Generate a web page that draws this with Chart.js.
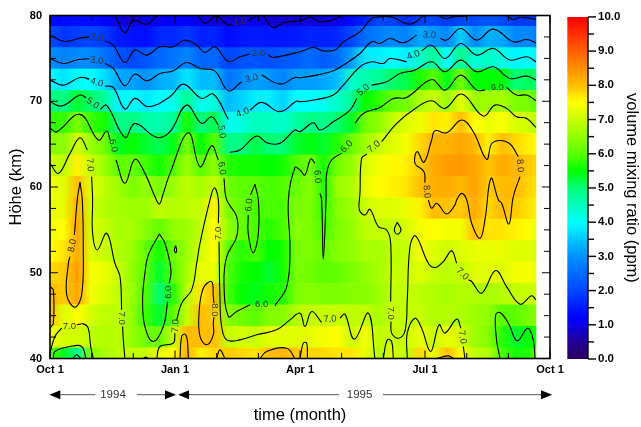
<!DOCTYPE html>
<html><head><meta charset="utf-8">
<style>html,body{margin:0;padding:0;background:#fff}canvas{position:absolute;left:0;top:0}</style>
<script src="https://cdn.jsdelivr.net/npm/chart.js@4"></script>
</head><body>
<canvas id="main" width="641" height="427"></canvas>
<canvas id="bar" width="641" height="427"></canvas>
<script>
const FONT="'Liberation Sans',Arial,sans-serif";
// heat-map columns (days since 1 Oct 1994)
const columnDays=[0,10,20,30,40,50,60,70,80,90,100,110,120,130,140,150,160,170,180,190,200,210,220,230,240,250,260,270,280,290,300,310,320,330,340,350,355];
const rowKm=[80,77.5,75,72.5,70,67.5,65,62.5,60,57.5,55,52.5,50,47.5,45,42.5,40];
const r80=[1.3,1.3,1.35,1.35,1.25,0.95,0.8,1.0,1.05,1.2,1.2,1.0,0.9,0.85,0.9,1.05,0.85,0.85,0.9,0.95,0.9,1.0,1.3,1.6,2.0,1.95,1.7,1.9,2.05,1.85,2.0,2.1,2.2,2.1,1.85,1.9,1.9];
const r77=[2.05,1.8,1.9,2.0,1.85,1.5,1.4,1.35,1.65,1.65,1.85,1.55,1.6,1.3,1.45,1.5,1.45,1.45,1.5,1.6,1.55,1.65,2.0,2.5,2.75,2.9,2.8,3.2,3.05,2.85,3.55,2.9,3.3,3.2,2.85,2.9,2.75];
const r75=[3.0,2.8,2.9,2.9,2.6,2.2,2.0,2.2,2.45,2.6,2.85,2.4,2.45,1.95,2.15,2.2,2.1,2.25,2.3,2.5,2.3,2.5,3.1,3.8,3.85,4.0,3.85,4.4,4.8,4.0,4.9,4.25,4.45,4.2,3.9,4.05,3.9];
const r72=[4.0,3.75,4.1,4.0,3.7,3.2,3.15,3.0,3.25,3.35,3.8,3.4,3.4,2.6,2.9,3.15,3.05,2.85,3.1,3.1,3.2,3.4,4.4,4.6,4.8,5.05,5.2,5.65,6.0,5.4,6.25,5.45,5.5,5.5,5.0,5.15,5.0];
const r70=[5.0,4.9,5.3,5.05,4.75,3.9,4.05,3.8,4.0,4.15,4.8,4.1,4.3,3.35,3.6,3.85,3.85,3.6,4.0,4.0,4.15,4.4,4.8,5.5,5.75,6.1,6.2,6.75,7.0,6.6,7.25,6.6,6.6,6.7,6.3,6.25,6.0];
const r67=[5.75,5.8,6.3,5.8,5.6,4.85,4.95,4.65,4.6,4.75,5.6,4.95,5.2,4.1,4.25,4.5,4.45,4.4,4.7,4.9,4.85,5.05,5.35,6.2,6.45,6.95,7.2,7.35,7.7,7.6,8.02,7.5,7.3,7.45,7.15,7.05,6.85];
const r65=[6.45,6.4,7.1,6.55,6.2,5.35,5.55,5.3,5.15,5.4,6.25,5.5,6.0,4.9,4.9,5.2,5.0,5.0,5.3,5.45,5.3,5.7,6.15,6.6,7.0,7.2,7.4,7.8,8.1,8.1,8.25,8.05,7.6,8.0,7.8,7.6,7.5];
const r62=[7.0,6.9,7.6,7.0,6.6,6.0,6.1,5.85,5.6,5.95,6.6,6.0,6.5,5.7,5.6,5.6,5.5,5.6,5.95,6.2,5.6,6.25,6.5,7.15,7.4,7.55,7.6,7.9,8.2,8.35,8.4,8.25,7.95,8.2,8.05,7.9,7.8];
const r60=[7.4,7.2,8.0,7.2,6.9,6.6,6.3,6.5,6.3,6.6,6.9,6.7,7.0,6.2,6.0,6.0,5.9,5.95,6.1,6.4,5.7,6.6,6.7,7.3,7.5,7.6,7.7,8.0,8.15,8.2,8.05,8.3,7.9,8.05,8.05,7.8,7.7];
const r57=[7.3,7.3,8.15,7.1,6.8,6.7,6.6,6.6,6.9,6.8,6.9,6.95,7.6,6.3,6.1,5.9,5.9,5.9,6.3,6.3,5.8,6.4,6.6,7.0,7.2,7.2,7.3,7.6,8.02,7.95,7.9,8.2,7.8,8.05,7.9,7.7,7.6];
const r55=[7.4,7.5,8.25,7.1,7.0,6.7,6.7,6.4,6.1,6.5,6.6,6.95,7.5,6.5,6.1,5.9,5.7,5.9,6.4,6.3,5.9,6.3,6.5,6.9,6.95,6.95,7.1,7.4,7.5,7.4,7.4,8.02,7.7,7.7,7.6,7.5,7.4];
const r52=[7.5,7.7,8.2,7.2,7.0,6.8,6.6,6.05,5.6,6.2,6.6,7.1,7.5,6.0,5.7,5.9,5.5,5.6,6.3,6.3,6.1,6.4,6.5,6.7,6.7,6.9,6.95,7.4,7.2,7.05,7.2,7.3,7.3,7.3,7.2,7.2,7.1];
const r50=[7.8,7.9,8.35,7.4,7.3,7.0,6.5,6.0,5.3,6.0,6.7,7.3,7.3,5.95,5.6,5.5,5.3,5.6,6.3,6.2,6.0,6.1,6.3,6.5,6.7,6.95,7.0,7.2,6.95,6.9,6.95,7.2,7.25,7.2,7.4,7.4,7.35];
const r47=[8.05,7.9,8.25,7.4,7.2,6.9,6.6,5.9,5.0,5.7,6.9,7.7,8.0,5.9,5.5,5.4,5.6,5.7,6.3,6.4,6.3,6.3,6.4,6.4,6.6,6.9,6.95,6.9,6.8,6.7,6.8,6.8,6.7,6.8,6.95,7.0,7.0];
const r45=[8.05,7.2,7.5,7.1,6.9,6.9,6.5,5.8,5.3,6.0,7.0,8.0,7.9,6.4,6.2,6.0,6.4,6.4,6.8,7.0,6.95,7.0,6.9,6.95,6.7,7.0,6.9,7.0,6.8,6.85,6.75,6.6,6.5,6.0,6.0,6.3,6.4];
const r42=[7.4,7.1,7.1,6.9,6.8,6.9,6.5,6.2,6.1,7.0,8.05,8.0,8.0,6.95,7.1,7.0,7.2,7.25,7.2,7.3,7.4,7.5,7.0,7.4,6.9,7.0,7.0,7.3,7.0,7.3,7.1,6.6,6.4,5.7,5.3,5.5,5.6];
const r40=[6.0,5.4,4.8,6.4,6.7,6.9,6.9,7.0,7.3,7.5,8.15,7.6,7.8,7.9,7.8,7.7,8.0,8.1,7.9,7.8,7.8,7.7,7.7,7.3,6.8,7.2,6.9,7.8,7.3,8.0,7.5,6.9,6.8,5.9,5.6,5.7,6.0];
const heatRows=[r80,r77,r75,r72,r70,r67,r65,r62,r60,r57,r55,r52,r50,r47,r45,r42,r40];
// colour scale: value, r, g, b
const colorMap=[[0,45,0,95],[0.5,35,0,150],[1,10,0,235],[1.2,0,0,255],[2,0,70,255],[3,0,145,255],[4,0,255,255],[5,0,255,120],[5.5,0,255,0],[6,90,255,0],[7,200,255,0],[7.5,255,255,0],[8,255,190,0],[9,255,95,0],[10,255,0,0]];
// contour pieces: flat day,km,day,km...
const c10=[[47.4,80,54.7,77.98,60.8,79.46,70.6,78.99,77.9,80],
[108.3,80,113.1,79.07,121.2,79.92,128.9,78.99,132.6,78.87],[144.8,79.38,150.9,80],
[155.7,80,163,78.6,170.3,79.15,182.5,79.38,189.8,79.77,197.1,79.26,206.8,79.53,212.9,80]];
const c20=[[0,77.71,10.9,76.97,20.7,77.32,28.7,77.51],
[40.1,77.05,46.2,76.54,54.7,74.52,62,75.96,70.6,75.38,80.3,76.35,90,76.35,98.5,77.13,107.1,76.54,113.1,75.69,120.4,76.35,130.2,74.64,138.7,75.19,146,75.5],
[159.4,75.38,163,75.11,182.5,75.77,192.2,76.27,199.5,75.88,208.8,76.04,214.1,76.93,226.3,78.1,234.8,79.65,240.9,79.84,249.4,79.84,262.8,78.99,273,80],
[283.5,80,288.3,79.65,294.4,79.84,301.7,79.92,305.4,80],[333.3,80,338.2,79.53,343.1,79.77,354.8,79.57]];
const c30=[[0,74.99,9.7,74.41,20.7,74.87,28.7,74.95],
[40.1,74.41,46.2,73.83,54.7,71.81,62,73.17,70.6,72.39,80.3,73.24,90,73.55,99.7,74.52,109.5,73.83,120.4,73.52,130.2,71.22,139.9,72.27],
[154.5,73.05,167.9,72,178.8,72.78,182.5,72.74,194.7,73.05,206.8,73.55,214.1,74.21,226.3,75.57,234.8,76.93,240.9,76.74,248.2,77.32,257.9,76.82,267.7,77.71],
[284.7,77.32,289.6,77.13,299.8,78.49,311.5,77.13,323.6,78.41,338.2,76.93,348,77.2,354.8,76.82]];
const c40=[[0,72.47,9.7,71.88,21.9,72.78,28.7,72.58],
[40.1,71.77,46.2,71.61,54.7,69.09,62,70.33,71.8,69.36,87.6,70.53,97.3,72,110.7,70.33,119.2,70.84,130.2,67.88],
[146,68.97,154.5,69.87,167.9,68.78,180,70.02,182.5,69.94,194.7,70.21,206.8,70.72,214.1,71.88,226.3,74.02,234.8,74.6,243.3,74.41,248.2,74.99,260.4,74.6],
[271.3,75.88,278.6,76.54,288.3,74.99,299.8,76.74,311.5,75.38,323.6,76.16,335.8,74.8,348,75.19,354.8,74.6]];
const c50=[[0,69.94,8.5,69.44,21.9,70.72,26.3,70.41],
[36.5,69.05,41.4,69.52,54.7,65.79,62,67.42,77.9,65.79,87.6,66.45,99.7,69.55,110.7,67.42,118,68.2,122.9,67.22],
[131.4,64.04,138.7,64.31,150.9,65.94,158.2,65.17,167.9,65.09,178.8,66.64,182.5,66.45,192.2,67.5,197.1,66.64,206.8,67.61,219,68.97,223.9,70.33],
[234.8,71.88,245.8,72.27,255.5,73.24,266.4,73.63,278.6,74.6,288.3,73.44,299.8,74.8,311.5,73.44,323.6,74.02,335.8,72.66,348,72.93,354.8,72.47],
[16.5,40,19.5,40.43,22.4,40]];
const c60=[[0,66.84,4.9,66.45,21.9,68.47,35.3,65.48,41.4,66.53,43.8,65.48],
[48.2,63.15,54.7,60.43,62,63.23,69.3,61.59,76.6,58.88,79.8,58.02,82.7,59.26,87.6,61.59,101,66.33,109.5,62.37,118,64.82,122.9,63.15],
[127,61.01,129,58.49,136.3,56.55,136.3,54.22,129,51.89,127,48.78,130.2,44.9,136.3,45.48,146,46.26],
[164.2,46.14,172.8,48.39,175.2,52.66,174,58.49,178.8,62.25,182.5,61.98,186.1,61.4,190.3,63.26,193.4,62.76],
[197.1,59.26,198.3,58.49,199.5,51.58,201.5,58.49,202,61.59,205.6,63.15,212.9,63.92],
[222.6,67.42,228.7,68.58,240.9,69.28,250.6,70.33,260.4,70.45,278.6,72.54,288.3,71.3,299.8,73.05,311.5,71.3,317.5,71.3],
[333.3,71.61,340.6,70.72,348,70.72,354.8,70.06],
[79.8,54.53,71.8,52.08,69.3,49.95,67.6,46.84,69.3,43.73,75.4,41.99,82.7,43.73,85.9,46.64],[87.1,48.78,88.3,50.33,83.9,53.44,79.8,54.53],
[91.7,53.17,90.8,52.66,91.7,52.35,92.4,52.66,91.7,53.17],
[149.6,60.31,146.4,59.07],[144.7,56.74,144.7,54.6,148.4,52.35,152.1,54.6,152.1,58.49,149.6,60.31],
[2.4,40,3.6,40.82,14.6,41.4,23.1,41.4,26.3,40],
[328.5,40,326,42.17,325.3,45.09,328.5,45.36,334.6,44.12,341.1,42.06,348.7,43.54,352.8,42.17,354,40]];
const c70=[[0,62.76,6.1,61.59,14.6,63.92,21.9,65.75,27.3,64.31],
[30.4,61.21,31.1,58.49,31.1,54.6,34.5,52.66,41.4,54.6,47.4,51.11,51.1,49.56,52.3,45.67],[53,43.73,53.5,42.17,54.7,40],
[77.9,40,80.3,41.4,90,41.79,91.2,42.96],
[92.5,44.51,96.1,46.45,103.4,48,107.1,51.11,109.5,53.44,116.8,58.49,120,59.92,122.9,58.49,122.9,55.77],
[123.4,53.63,124.1,46.84,125.3,43.73,129,42.17,138.7,42.17,150.9,42.76,165.4,43.34,175.2,44.51,182.5,45.29,186.1,43.73,191,45.48,198.3,44.2],
[211.7,44.7,215.3,45.17,222.2,42.26,232.4,45.29,237.2,40],
[354.8,66.95,348,68,340.6,68.2,333.3,69.17,324.8,69.55,316.3,68.27,300.5,70.84,288.3,69.17,278.6,70.06,267.7,69.28,253.1,67.42,242.1,65.28],
[231.2,63.85,227.5,63.34,226.3,59.26,225.8,57.32,229.9,56.74,233.6,57.4,239.7,55.38,245.8,54.99,248.7,53.44,248.7,46.64],
[248.9,44.32,249.4,42.96,254.3,42.37,259.1,43.15,260.8,46.84,262.8,53.05,266.9,54.3,276.2,51.11,281,50.61,287.1,51.3,293.2,52.55,296.9,51.11],
[305.4,49.17,307.8,48.98,315.1,47.62,325.3,50.26,333.3,48.39,343.1,46.33,351.6,47.31,354.8,46.84],
[0,40.63,3.6,42.57,8.5,43.54],[19.5,43.93,24.3,44.04,27.9,43.54,29.7,41.4,31.6,40],
[68.1,40,69.8,40.16,71.8,40],
[243.3,40,246.2,42.17,249.4,41.98,250.6,40],
[253.5,55.89,251.4,54.99,253.5,54.49,256.2,54.99,253.5,55.89],
[260.8,40,260.8,42.96,266.4,44.7,271.3,43.54,277.9,40.82,284,43.93,288.3,42.96,296.9,44.59,300,43.54],[301.7,41.4,302.9,40]];
const c80=[[0,48.39,2.4,48,2.4,44.12,0,43.54],
[21.9,60.55,23.6,58.49,24.3,52.66,23.1,47.42,18.2,45.98,12.2,47.42,13.4,51.11,14.6,51.89],[17.8,54.41,19.9,58.49,21.9,60.55],
[94.9,40,96.1,42.56,98.5,42.84,100.2,42.17,101,40],
[119.7,44.82,119.2,44.12,119.2,42.76,114.4,41.6,109.5,42.57,108.8,45.29,111.9,48.2,118,48.97,119.2,47.22,119.7,46.45],
[121.7,40,124.1,41.01,127.7,40],
[153.3,40,158.2,40.82,172.8,41.2,178.8,40],
[182.5,40,184.9,41.79,187.4,41.79,187.9,40],
[282.3,40,290.8,40.31,294.4,40],
[273.7,60.51,273,61.79,266.4,62.76,268.1,64.12,273,62.88,278.6,65.48,281,66.56,289.6,66.33,300.5,67.81,309,66.45,318.8,63.23,323.1,65.17,334.6,65.17,341.9,63.54],
[343.1,61.21,338.2,58.88,335,55.69,329.7,58.1,327.3,58.49,321.9,61.01,317.5,56.16,313.9,54.02,307.8,55.77,304.2,58.49,300.5,59.26,296.9,58.49,295.6,57.91,289.6,56.86,282.3,58.1,278.6,57.52,276.2,58.49]];
const contourPieces=[c10,c20,c30,c40,c50,c60,c70,c80];
// contour labels
const labelText=['1.0','2.0','2.0','3.0','3.0','4.0','4.0','5.0','5.0','6.0','6.0','3.0','4.0','5.0','6.0','7.0','6.0','6.0','7.0','8.0','8.0','8.0','7.0','7.0','6.0','7.0','7.0','6.0','8.0','6.0','7.0','7.0','7.0','7.0'];
const labelDay=[138.7,34.1,152.1,34.1,147.2,34.1,140.6,31.1,125.3,46.2,125.3,276.9,265.2,228.7,216.6,236.5,326.5,195.2,29.2,275,343.1,16.3,14.1,52.3,86.4,91.7,122.9,145.5,120,154.5,204.4,248.7,301,301];
const labelKm=[79.3,77.4,75.57,74.72,72.66,72.16,68.66,69.75,66.45,64.82,62.18,77.71,75.38,71.3,64.7,64.7,71.57,61.21,62.57,59.46,62.49,53.17,43.73,44.7,47.73,43.81,54.6,57.9,45.67,46.37,44.59,45.29,49.87,42.49];
const labelAngle=[-8,10,0,8,-15,15,-20,35,80,75,80,5,-20,-40,-45,-40,0,85,85,85,85,-80,0,90,-90,-85,-90,-85,90,0,-5,90,45,80];
// axes
const monthTicks=[0,30.4,60.8,91.25,121.7,152.1,182.5,212.9,243.3,273.75,304.2,334.6,365];
const quarterLabels=['Oct 1','Jan 1','Apr 1','Jul 1','Oct 1'];
const spanNames=['1994','1995'];
const spanFrom=[-0.5,93.5];
const spanTo=[92,366.5];
const spanTextAt=[46,226];
const spanGap=[[33,63.5],[211,243]];
const barValues=[[0,10]];

function colorOf(v){
  for(let i=1;i<colorMap.length;i++){
    if(v<=colorMap[i][0]){
      const a=colorMap[i-1],b=colorMap[i],t=(v-a[0])/(b[0]-a[0]);
      return `rgb(${Math.round(a[1]+(b[1]-a[1])*t)},${Math.round(a[2]+(b[2]-a[2])*t)},${Math.round(a[3]+(b[3]-a[3])*t)})`;
    }
  }
  return 'rgb(255,0,0)';
}
function rowFill(ctx){
  const chart=ctx.chart,xs=chart.scales.x;
  const row=heatRows[ctx.dataIndex];
  if(!row||!xs) return '#fff';
  const last=columnDays[columnDays.length-1];
  const p0=xs.getPixelForValue(0),p1=xs.getPixelForValue(last);
  if(!isFinite(p0)||!isFinite(p1)) return '#fff';
  const g=chart.ctx.createLinearGradient(p0,0,p1,0);
  row.forEach((v,i)=>g.addColorStop(columnDays[i]/last,colorOf(v)));
  return g;
}
const lineSets=[];
contourPieces.forEach(level=>level.forEach(piece=>{
  const pts=[];
  for(let i=0;i<piece.length;i+=2)pts.push({x:piece[i],y:piece[i+1]});
  lineSets.push({type:'scatter',showLine:true,data:pts,borderColor:'#000',borderWidth:1.1,pointRadius:0,tension:0.4,fill:false,order:1});
}));

const frame={id:'frame',afterDatasetsDraw(chart){
  const {ctx,chartArea:a,scales:{x,y}}=chart;
  ctx.save();
  ctx.fillStyle='#333';ctx.font='9.5px '+FONT;ctx.textAlign='center';ctx.textBaseline='middle';
  labelText.forEach((t,i)=>{
    ctx.save();ctx.translate(x.getPixelForValue(labelDay[i]),y.getPixelForValue(labelKm[i]));
    ctx.rotate(labelAngle[i]*Math.PI/180);ctx.fillText(t,0,0);ctx.restore();
  });
  ctx.strokeStyle='#000';ctx.lineWidth=1;
  x.ticks.forEach((t,i)=>{
    const px=x.getPixelForValue(t.value),len=i%3===0?8:5.5;
    ctx.beginPath();ctx.moveTo(px,a.bottom);ctx.lineTo(px,a.bottom-len);ctx.moveTo(px,a.top);ctx.lineTo(px,a.top+len);ctx.stroke();
  });
  y.ticks.forEach(t=>{
    const py=y.getPixelForValue(t.value),len=t.value%10===0?8:6;
    ctx.beginPath();ctx.moveTo(a.left,py);ctx.lineTo(a.left+len,py);ctx.moveTo(a.right,py);ctx.lineTo(a.right-len,py);ctx.stroke();
  });
  ctx.lineWidth=1.6;ctx.strokeRect(a.left,a.top,a.right-a.left,a.bottom-a.top);
  const ay=394.7;
  spanNames.forEach((n,i)=>{
    const x0=x.getPixelForValue(spanFrom[i]),x1=x.getPixelForValue(spanTo[i]);
    ctx.strokeStyle='#555';ctx.lineWidth=1;
    ctx.beginPath();ctx.moveTo(x0+6,ay);ctx.lineTo(x.getPixelForValue(spanGap[i][0]),ay);
    ctx.moveTo(x.getPixelForValue(spanGap[i][1]),ay);ctx.lineTo(x1-6,ay);ctx.stroke();
    ctx.fillStyle='#000';
    ctx.beginPath();ctx.moveTo(x0,ay);ctx.lineTo(x0+11,ay-4.5);ctx.lineTo(x0+11,ay+4.5);ctx.closePath();ctx.fill();
    ctx.beginPath();ctx.moveTo(x1,ay);ctx.lineTo(x1-11,ay-4.5);ctx.lineTo(x1-11,ay+4.5);ctx.closePath();ctx.fill();
    ctx.fillStyle='#333';ctx.font='11.5px '+FONT;ctx.textAlign='center';ctx.textBaseline='middle';
    ctx.fillText(n,x.getPixelForValue(spanTextAt[i]),ay);
  });
  ctx.restore();
}};

new Chart(document.getElementById('main'),{
  type:'scatter',
  data:{datasets:[{type:'bar',indexAxis:'y',data:rowKm.map(k=>({y:k,x:[0,355]})),backgroundColor:rowFill,borderWidth:0,categoryPercentage:1,barPercentage:1.03,order:2},...lineSets]},
  options:{responsive:false,animation:false,
    layout:{padding:{left:0,top:15.5,right:91,bottom:0}},
    plugins:{legend:{display:false},tooltip:{enabled:false}},
    scales:{
      x:{type:'linear',offset:false,min:0,max:365,grid:{display:false,offset:false,drawTicks:false},border:{display:false},
        afterBuildTicks(s){s.ticks=monthTicks.map(v=>({value:v}));},
        afterFit(s){s.height=68.5;},
        ticks:{autoSkip:false,maxRotation:0,padding:5,color:'#000',font:{family:FONT,size:11,weight:'bold'},
          callback(v,i){return i%3===0?quarterLabels[i/3]:'';}},
        title:{display:true,text:'time (month)',color:'#000',font:{family:FONT,size:16.5},padding:{top:0,bottom:2}}},
      y:{type:'linear',offset:false,min:40,max:80,grid:{display:false,offset:false,drawTicks:false},border:{display:false},
        afterFit(s){s.width=50;},
        ticks:{stepSize:2.5,autoSkip:false,padding:8,color:'#000',font:{family:FONT,size:11,weight:'bold'},
          callback(v){return v%10===0?String(v):'';}},
        title:{display:true,text:'Höhe (km)',color:'#000',font:{family:FONT,size:16.5},padding:{top:7,bottom:0}}}
    }},
  plugins:[frame]
});

function barFill(ctx){
  const ys=ctx.chart.scales.y;
  if(!ys) return '#fff';
  const p0=ys.getPixelForValue(0),p1=ys.getPixelForValue(10);
  if(!isFinite(p0)||!isFinite(p1)) return '#fff';
  const g=ctx.chart.ctx.createLinearGradient(0,p0,0,p1);
  colorMap.forEach(c=>g.addColorStop(c[0]/10,`rgb(${c[1]},${c[2]},${c[3]})`));
  return g;
}
const barAxis={id:'barAxis',afterDatasetsDraw(chart){
  const {ctx,chartArea:a,scales:{y}}=chart;
  ctx.save();ctx.strokeStyle='#000';ctx.lineWidth=1.4;
  ctx.beginPath();ctx.moveTo(a.right,a.top);ctx.lineTo(a.right,a.bottom);ctx.stroke();
  y.ticks.forEach(t=>{
    const py=y.getPixelForValue(t.value),len=Number.isInteger(t.value)?8:6;
    ctx.beginPath();ctx.moveTo(a.right,py);ctx.lineTo(a.right+len,py);ctx.stroke();
  });
  ctx.restore();
}};
new Chart(document.getElementById('bar'),{
  type:'bar',
  data:{labels:['ppm'],datasets:[{data:barValues,backgroundColor:barFill,borderWidth:0,categoryPercentage:1,barPercentage:1}]},
  options:{responsive:false,animation:false,
    layout:{padding:{left:567.3,top:16.7,right:0,bottom:68}},
    plugins:{legend:{display:false},tooltip:{enabled:false}},
    scales:{
      x:{display:false},
      y:{position:'right',min:0,max:10,grid:{display:false,drawTicks:false},border:{display:false},
        afterFit(s){s.width=53;},
        ticks:{stepSize:0.5,autoSkip:false,padding:10,color:'#000',font:{family:FONT,size:11.5,weight:'bold'},
          callback(v){return Number.isInteger(v)?v.toFixed(1):'';}},
        title:{display:true,text:'volume mixing ratio (ppm)',color:'#000',font:{family:FONT,size:16.5},padding:{top:0,bottom:0}}}
    }},
  plugins:[barAxis]
});
</script>
</body></html>
